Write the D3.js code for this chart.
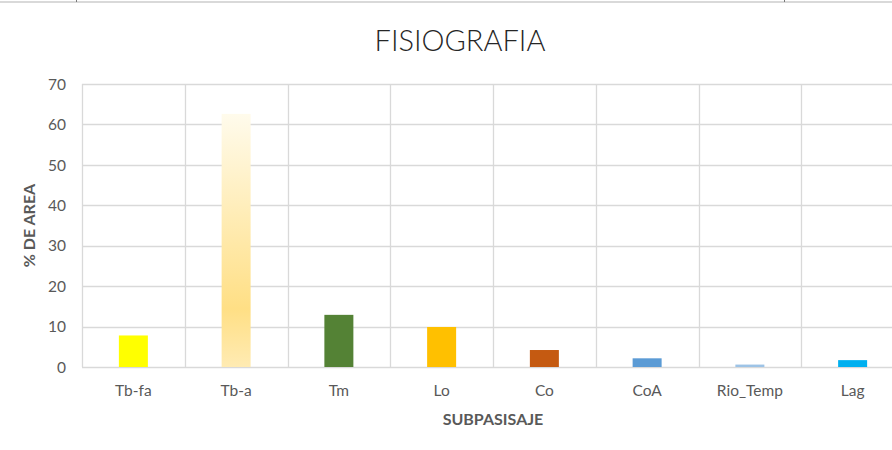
<!DOCTYPE html>
<html>
<head>
<meta charset="utf-8">
<script src="https://cdn.jsdelivr.net/npm/d3@7"></script>
<style>
  html, body { margin: 0; padding: 0; background: #fff; }
  svg { display: block; }
  text { font-family: Lato, "Open Sans", sans-serif; }
</style>
</head>
<body>
<svg id="chart" width="892" height="450"></svg>
<script>
const categories = ["Tb-fa", "Tb-a", "Tm", "Lo", "Co", "CoA", "Rio_Temp", "Lag"];
const values = [7.8, 62.6, 12.9, 9.9, 4.2, 2.15, 0.6, 1.7];
const colors = ["#FFFF00", "url(#gradTba)", "#548235", "#FFC000", "#C55A11", "#5B9BD5", "#9DC3E6", "#00B0F0"];
const yTicks = [0, 10, 20, 30, 40, 50, 60, 70];
const title = "FISIOGRAFIA";
const xTitle = "SUBPASISAJE";
const yTitle = "% DE AREA";

(function () {
const svg = d3.select("#chart");
const W = 892, H = 450;
const pLeft = 82, pRight = 904, pTop = 84, pBottom = 367;

// frame line at top
svg.append("line").attr("x1", 0).attr("x2", W).attr("y1", 2).attr("y2", 2)
  .attr("stroke", "#d9d9d9").attr("stroke-width", 2);
svg.append("line").attr("x1", 76.5).attr("x2", 76.5).attr("y1", 0).attr("y2", 2).attr("stroke", "#777");
svg.append("line").attr("x1", 784.5).attr("x2", 784.5).attr("y1", 0).attr("y2", 2).attr("stroke", "#777");

const defs = svg.append("defs");
const g = defs.append("linearGradient").attr("id", "gradTba")
  .attr("x1", 0).attr("y1", 0).attr("x2", 0).attr("y2", 1);
g.append("stop").attr("offset", "0%").attr("stop-color", "#FFFBEC");
g.append("stop").attr("offset", "77%").attr("stop-color", "#FFDF85");
g.append("stop").attr("offset", "100%").attr("stop-color", "#FFEBB3");

const x = d3.scaleBand().domain(categories).range([pLeft, pRight]).paddingInner(0).paddingOuter(0);
const y = d3.scaleLinear().domain([0, 70]).range([pBottom, pTop]);

// horizontal gridlines
svg.append("g").selectAll("line").data(yTicks).join("line")
  .attr("x1", pLeft).attr("x2", pRight)
  .attr("y1", d => Math.round(y(d)) + 0.5).attr("y2", d => Math.round(y(d)) + 0.5)
  .attr("stroke", "#d9d9d9").attr("stroke-width", 1.3);

// vertical gridlines at band boundaries
const bounds = categories.map(c => x(c)).concat([pRight]);
svg.append("g").selectAll("line").data(bounds).join("line")
  .attr("x1", d => Math.round(d) + 0.5).attr("x2", d => Math.round(d) + 0.5)
  .attr("y1", pTop).attr("y2", pBottom)
  .attr("stroke", "#d9d9d9").attr("stroke-width", 1.3);

// bars
const bw = 29;
svg.append("g").selectAll("rect").data(values).join("rect")
  .attr("x", (d, i) => x(categories[i]) + x.bandwidth() / 2 - bw / 2)
  .attr("width", bw)
  .attr("y", d => y(d))
  .attr("height", d => y(0) - y(d))
  .attr("fill", (d, i) => colors[i]);

// y axis labels
const yAxis = d3.axisLeft(y).tickValues(yTicks).tickSize(0).tickPadding(0);
const ya = svg.append("g").attr("transform", `translate(66,0)`).call(yAxis);
ya.select(".domain").remove();
ya.selectAll("text").attr("font-size", 15.5).attr("fill", "#595959")
  .style("font-family", "Lato, 'Open Sans', sans-serif").attr("dy", "0.34em");

// x axis labels
const xAxis = d3.axisBottom(x).tickSize(0).tickPadding(0);
const xa = svg.append("g").attr("transform", `translate(0,${pBottom + 18})`).call(xAxis);
xa.select(".domain").remove();
xa.selectAll("text").attr("font-size", 15.5).attr("fill", "#595959")
  .style("font-family", "Lato, 'Open Sans', sans-serif").attr("dy", "0.71em");

// title
svg.append("text").attr("x", 460).attr("y", 51).attr("text-anchor", "middle")
  .attr("font-size", 29).attr("font-weight", 300).attr("fill", "#262626").text(title);

// axis titles
svg.append("text").attr("x", 493).attr("y", 425).attr("text-anchor", "middle")
  .style("font-family", "Lato, 'Open Sans', sans-serif")
  .attr("font-size", 16).attr("font-weight", "bold").attr("fill", "#595959").text(xTitle);
svg.append("text").attr("transform", `translate(35,${(pTop + pBottom) / 2}) rotate(-90)`)
  .style("font-family", "Lato, 'Open Sans', sans-serif")
  .attr("text-anchor", "middle").attr("font-size", 16).attr("font-weight", "bold")
  .attr("fill", "#595959").text(yTitle);
})();
</script>
</body>
</html>
